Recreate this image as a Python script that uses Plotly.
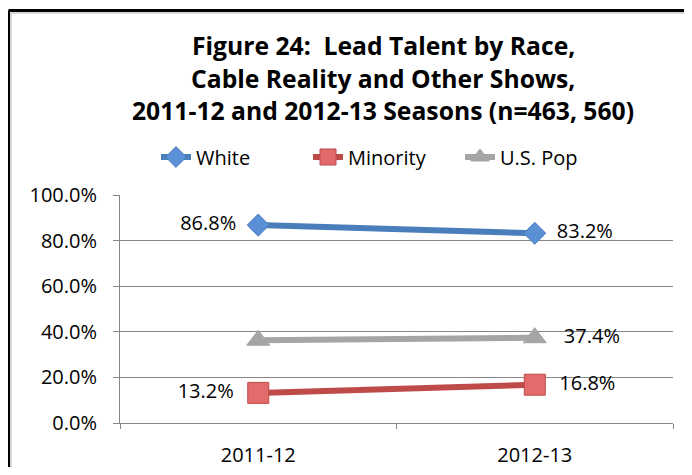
import plotly.graph_objects as go

seasons = ["2011-12", "2012-13"]
white = [0.868, 0.832]
minority = [0.132, 0.168]
us_pop = [0.363, 0.374]
title_lines = ["Figure 24:  Lead Talent by Race,", "Cable Reality and Other Shows,",
               "2011-12 and 2012-13 Seasons (n=463, 560)"]

FONT = "Open Sans"
OFF = 8  # page body margin
W, H = 692 - OFF, 475 - 2 * OFF
# plot area in page pixels: x 120..673, y 195..423
L, R, T, B = 120 - OFF, W - (673 - OFF), 195 - OFF, H - (423 - OFF)
PW, PH = W - L - R, H - T - B

def px(x):
    return (x - OFF - L) / PW

def py(y):
    return (H - B - (y - OFF)) / PH

NB = "\u00a0"

def labels(vals, show, pad):
    out = []
    for i, (v, s) in enumerate(zip(vals, show)):
        if not s:
            out.append("")
            continue
        t = f"{v*100:.1f}%"
        out.append(t + NB * pad if i == 0 else NB * pad + t)
    return out

fig = go.Figure()
series = [
    ("White", white, "#4a7ebb", "#5b8fd6", "diamond", 17, [True, True], 2),
    ("Minority", minority, "#be4b48", "#e26b6b", "square", 21, [True, True], 2),
    ("U.S. Pop", us_pop, "#a5a5a5", "#a5a5a5", "triangle-up", 20, [False, True], 3),
]
for name, vals, lc, mc, sym, sz, show, pad in series:
    fig.add_trace(go.Scatter(
        x=seasons, y=vals, name=name, mode="lines+markers+text",
        line=dict(color=lc, width=6),
        marker=dict(symbol=sym, size=sz, color=mc, line=dict(color=lc, width=1)),
        text=labels(vals, show, pad),
        textposition=["middle left", "middle right"],
        textfont=dict(family=FONT, size=20, color="#000000"),
        cliponaxis=False,
    ))

frame = [
    (8.5, 475, 8.5, 10.5, "#000000", 3),
    (8.5, 10.5, 700, 10.5, "#000000", 3),
    (11, 475, 11, 13, "#b0b0b0", 1),
    (11, 13, 700, 13, "#b0b0b0", 1),
]

fig.update_layout(
    width=W, height=H,
    margin=dict(l=L, r=R, t=T, b=B, autoexpand=False),
    paper_bgcolor="white", plot_bgcolor="white",
    font=dict(family=FONT, size=20, color="#000000"),
    showlegend=True,
    legend=dict(orientation="h", x=px(156), y=py(157), xanchor="left", yanchor="middle",
                font=dict(family=FONT, size=20), entrywidth=107, traceorder="normal",
                bgcolor="rgba(0,0,0,0)"),
    xaxis=dict(type="category", range=[-0.5, 1.5], showgrid=False, automargin=False,
               showline=True, linecolor="#868686", linewidth=1,
               ticks="outside", tickson="boundaries", ticklen=5, tickcolor="#868686",
               ticklabelstandoff=14, tickfont=dict(family=FONT, size=20)),
    yaxis=dict(range=[0, 1], dtick=0.2, tickformat=".1%", automargin=False,
               showgrid=True, gridcolor="#868686", gridwidth=1,
               showline=True, linecolor="#868686", linewidth=1,
               ticks="outside", ticklen=6, tickcolor="#868686",
               ticklabelstandoff=12, zeroline=False,
               tickfont=dict(family=FONT, size=20)),
    annotations=[dict(text=line, xref="paper", yref="paper",
                      x=px(383), y=py(yc), xanchor="center", yanchor="middle",
                      showarrow=False,
                      font=dict(family=FONT, size=24.7, color="#000000", weight="bold"))
                 for line, yc in zip(title_lines, [45, 78, 110])],
    shapes=[dict(type="line", xref="paper", yref="paper",
                 x0=px(a), y0=py(b), x1=px(c), y1=py(d),
                 line=dict(color=col, width=wd))
            for a, b, c, d, col, wd in frame],
)

fig.write_html("out.html")
